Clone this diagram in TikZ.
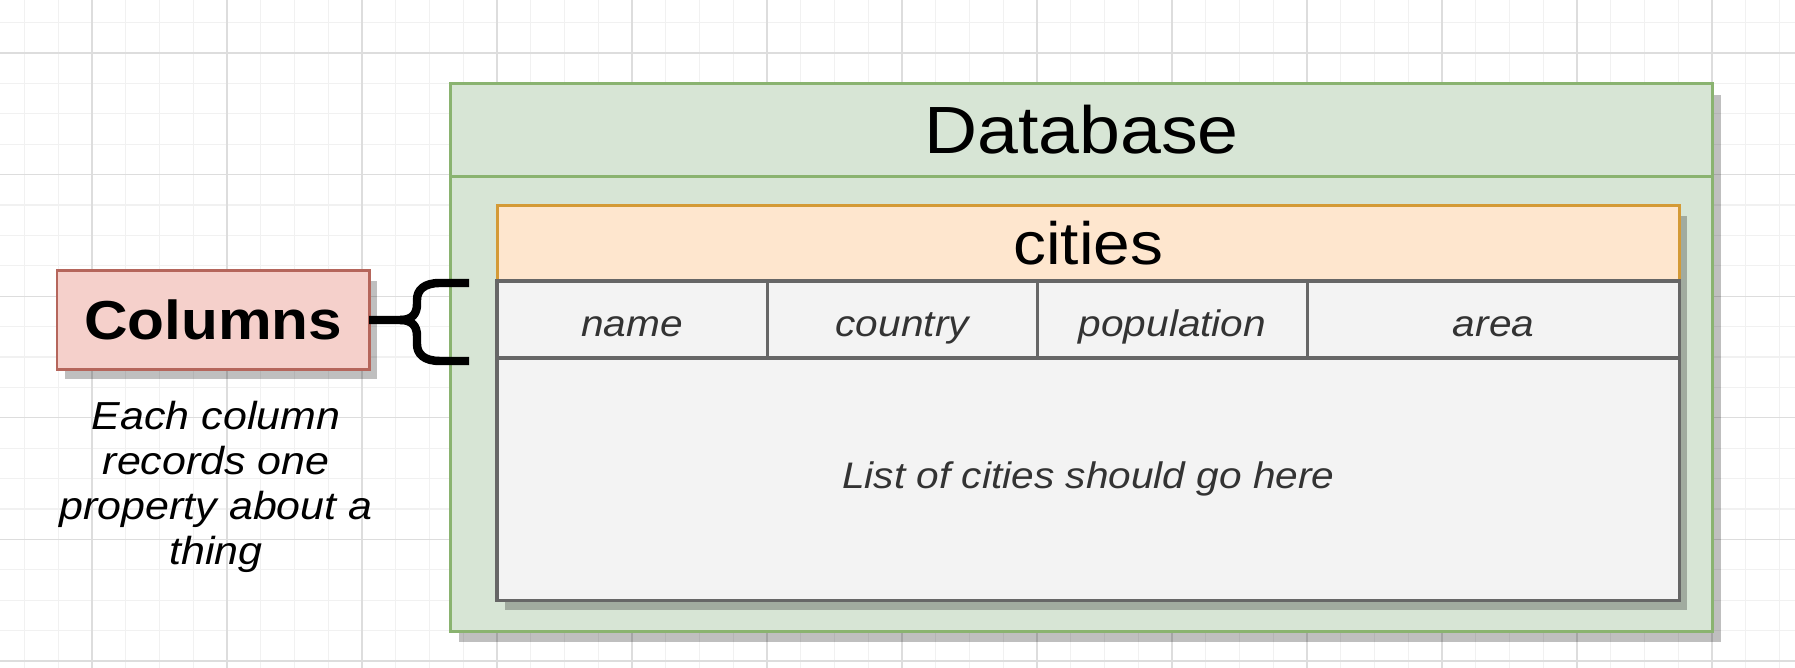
\documentclass[tikz,border=0pt]{standalone}
\usepackage{fontspec}
\setmainfont{Liberation Sans}[FakeStretch=1.1]
\usepackage{xcolor}
\usetikzlibrary{positioning,calc}

\definecolor{gridlight}{HTML}{F1F1F1}
\definecolor{griddark}{HTML}{DDDDDD}
\definecolor{dbfill}{HTML}{D7E5D5}
\definecolor{dbline}{HTML}{8AB370}
\definecolor{tblfill}{HTML}{FEE6CE}
\definecolor{tblline}{HTML}{D49A36}
\definecolor{colfill}{HTML}{F5D0CB}
\definecolor{colline}{HTML}{B5665C}
\definecolor{cellfill}{HTML}{F3F3F3}
\definecolor{cellline}{HTML}{666666}
\definecolor{celltext}{HTML}{333333}

\begin{document}
\begin{tikzpicture}[
    x=0.01cm, y=-0.01cm,
    gridminor/.style={draw=gridlight, line width=0.35pt},
    gridmajor/.style={draw=griddark, line width=0.35pt},
    dropshade/.style={fill=black, fill opacity=0.25},
    dbhead/.style={draw=dbline, fill=dbfill, line width=0.85pt, outer sep=0pt,
                   minimum width=12.62cm, minimum height=0.92cm,
                   font=\fontsize{19}{22}\selectfont},
    dbbody/.style={draw=dbline, fill=dbfill, line width=0.85pt, outer sep=0pt,
                   minimum width=12.62cm, minimum height=4.55cm},
    tblhead/.style={draw=tblline, fill=tblfill, line width=0.85pt, outer sep=0pt,
                    minimum width=11.82cm, minimum height=0.75cm,
                    font=\fontsize{17}{20}\selectfont},
    fieldcell/.style={draw=cellline, fill=cellfill, line width=0.9pt, outer sep=0pt,
                      minimum width=2.7cm, minimum height=0.77cm, text=celltext,
                      text height=9.4pt, text depth=0pt,
                      font=\fontsize{10.5}{12}\selectfont\itshape},
    tblbody/.style={draw=cellline, fill=cellfill, line width=0.9pt, outer sep=0pt,
                    minimum width=11.82cm, minimum height=2.42cm, text=celltext,
                    font=\fontsize{10.5}{12}\selectfont\itshape},
    colbox/.style={draw=colline, fill=colfill, line width=0.85pt, outer sep=0pt,
                   minimum width=3.12cm, minimum height=0.98cm,
                   font=\fontsize{15.6}{18}\selectfont\bfseries},
    captiontext/.style={align=center, inner sep=0pt,
                        font=\fontsize{11.1}{12.8}\selectfont\itshape},
    bracepath/.style={draw=black, line width=2.4pt}
  ]
  \useasboundingbox (0,0) rectangle (1795,668);

  % grid
  \fill[white] (0,0) rectangle (1795,668);
  \foreach \i in {0,...,52}
    \draw[gridminor] ({24.5+33.75*\i},0) -- ++(0,668);
  \foreach \j in {0,...,21}
    \draw[gridminor] (0,{22.6+30.4*\j}) -- ++(1795,0);
  \foreach \i in {0,...,12}
    \draw[gridmajor] ({92+135*\i},0) -- ++(0,668);
  \foreach \j in {0,...,5}
    \draw[gridmajor] (0,{53+121.6*\j}) -- ++(1795,0);

  % database
  \fill[dropshade] (459,95) rectangle (1721,642);
  \node[dbhead, anchor=north west] (dbtitle) at (450,84) {Database};
  \node[dbbody, anchor=north west] (dbinner) at (dbtitle.south west) {};

  % cities table
  \fill[dropshade] (505,216) rectangle (1687,610);
  \node[tblhead, anchor=north west] (cities) at (497,206) {cities};
  \node[fieldcell, anchor=north west] (fname) at (cities.south west) {name};
  \node[fieldcell, right=0pt of fname] (fcountry) {country};
  \node[fieldcell, right=0pt of fcountry] (fpop) {population};
  \node[fieldcell, right=0pt of fpop, minimum width=3.72cm] (farea) {area};
  \node[tblbody, anchor=north west] (citylist) at (fname.south west)
    {List of cities should go here};

  % columns note
  \fill[dropshade] (65,281) rectangle (377,379);
  \node[colbox, anchor=north west] (cols) at (57,271) {Columns};
  \node[captiontext, below=0.31cm of cols, xshift=0.03cm] (colnote)
    {Each column\\records one\\property about a\\thing};

  % brace
  \coordinate (bracetop) at (469,283);
  \coordinate (bracebot) at (469,361);
  \draw[bracepath] (bracetop) -- (440,283) .. controls (424,283) and (417,290) .. (417,300)
    -- (417,304) .. controls (417,314) and (412,320) .. (400,320) -- (cols.east);
  \draw[bracepath] (bracebot) -- (440,361) .. controls (424,361) and (417,354) .. (417,344)
    -- (417,336) .. controls (417,326) and (412,320) .. (400,320);
\end{tikzpicture}
\end{document}
